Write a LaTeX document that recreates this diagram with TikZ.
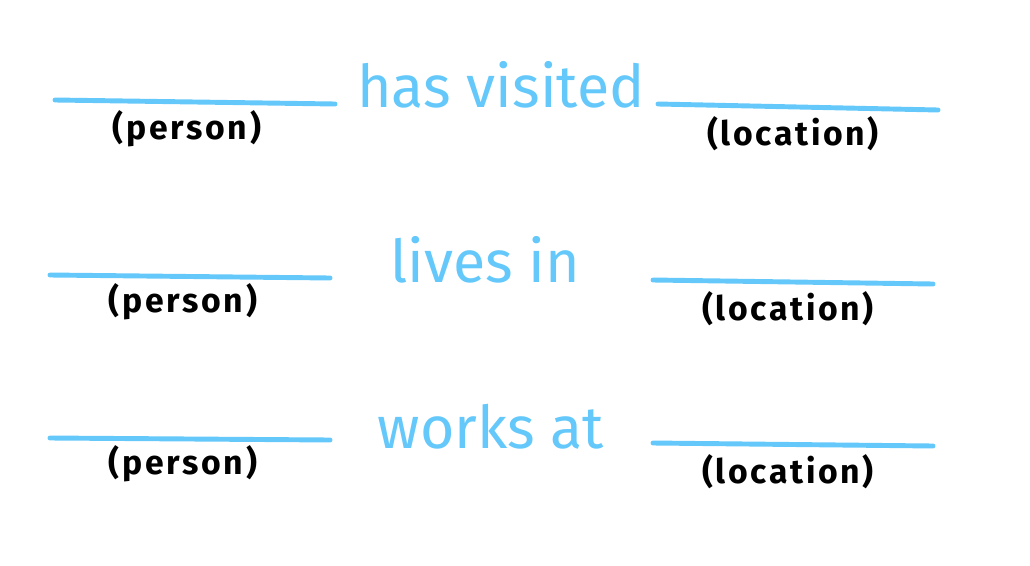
\documentclass[tikz,border=0pt]{standalone}
\usepackage{fontspec}
\setmainfont{Fira Sans}
\usepackage{tikz}
\usetikzlibrary{positioning}
\definecolor{sky}{RGB}{100,200,250}
\definecolor{ink}{RGB}{0,0,0}

\begin{document}
\begin{tikzpicture}[x=0.025cm, y=-0.025cm,
    blank/.style={draw=sky, line width=3.5pt, line cap=round},
    rel/.style={font=\fontsize{42}{46}\selectfont, text=sky, inner sep=0pt},
    kind/.style={font=\bfseries\fontsize{24}{26}\selectfont\addfontfeature{LetterSpace=8}, text=ink, inner sep=0pt}
]
\useasboundingbox (0,0) rectangle (1030,565);
% row 1
\coordinate (p1a) at (55,100);  \coordinate (p1b) at (335,104);
\coordinate (l1a) at (658,104); \coordinate (l1b) at (938,110);
\draw[blank] (p1a) -- (p1b);
\draw[blank] (l1a) -- (l1b);
\node[rel] (r1) at (501,85) {has visited};
\node[kind] (k1p) at (187,129) {(person)};
\node[kind] (k1l) at (793,134) {(location)};
% row 2
\coordinate (p2a) at (50,275);  \coordinate (p2b) at (330,278);
\coordinate (l2a) at (653,280); \coordinate (l2b) at (933,284);
\draw[blank] (p2a) -- (p2b);
\draw[blank] (l2a) -- (l2b);
\node[rel] (r2) at (485,260) {lives in};
\node[kind] (k2p) at (183,302) {(person)};
\node[kind] (k2l) at (788,309) {(location)};
% row 3
\coordinate (p3a) at (50,438);  \coordinate (p3b) at (330,440);
\coordinate (l3a) at (653,443); \coordinate (l3b) at (933,446);
\draw[blank] (p3a) -- (p3b);
\draw[blank] (l3a) -- (l3b);
\node[rel] (r3) at (491,427) {works at};
\node[kind] (k3p) at (183,464) {(person)};
\node[kind] (k3l) at (788,472) {(location)};
\end{tikzpicture}
\end{document}
